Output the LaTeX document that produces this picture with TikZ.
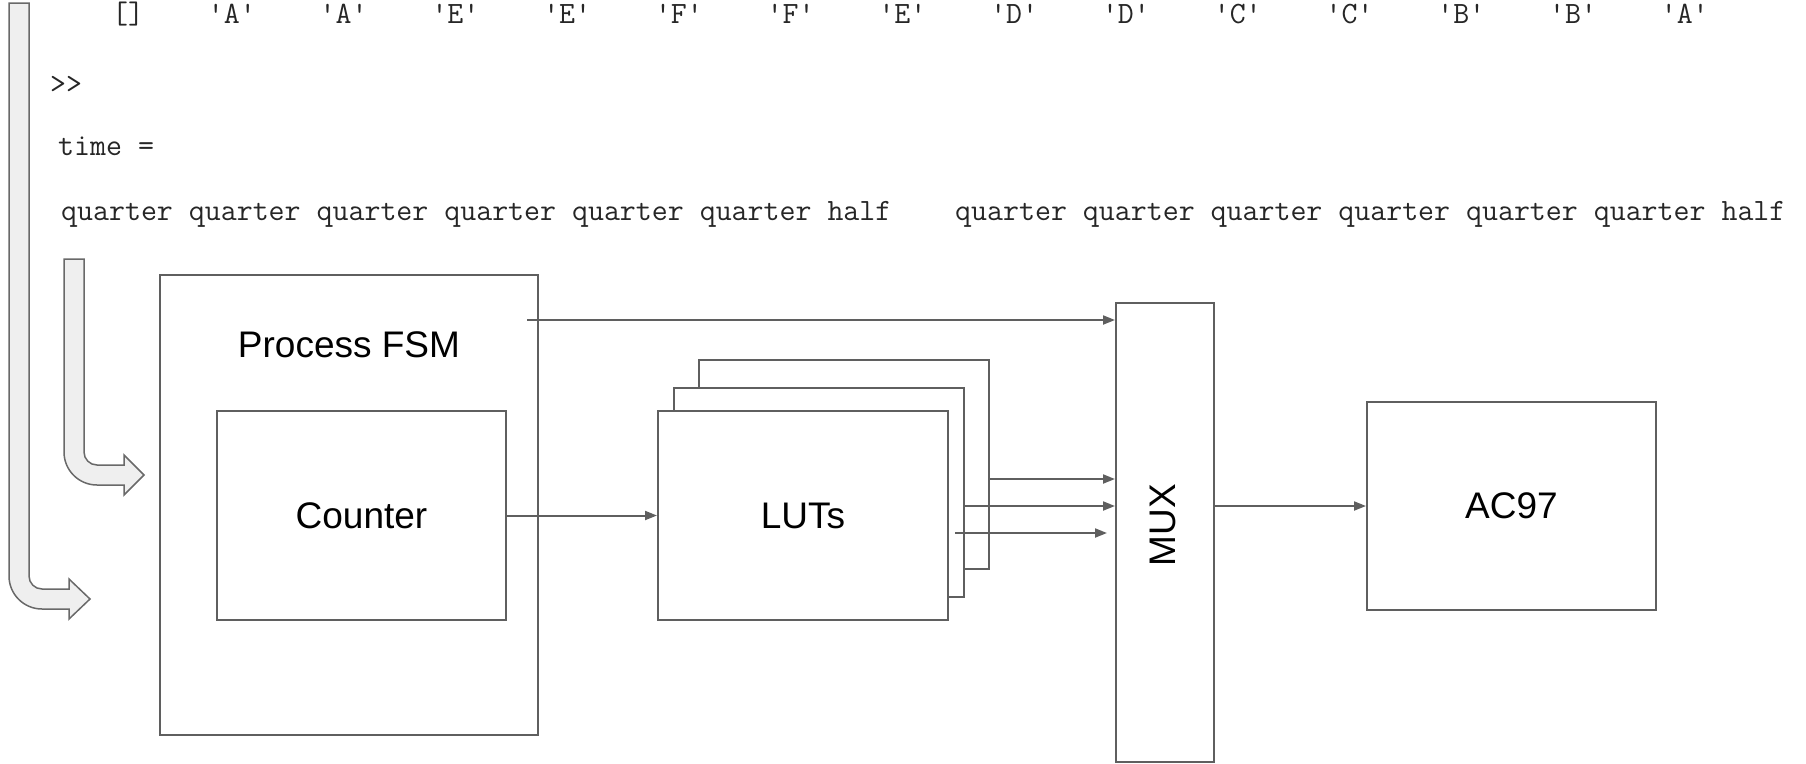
\documentclass[tikz,border=0pt]{standalone}
\usepackage{fontspec}
\setsansfont{Liberation Sans}
\usetikzlibrary{arrows.meta,calc,positioning}
\definecolor{lngray}{RGB}{95,95,95}
\definecolor{bendfill}{RGB}{239,239,239}
\definecolor{bendline}{RGB}{105,105,105}

\begin{document}
\begin{tikzpicture}[x=1pt,y=-1pt,
    lbl/.style={inner sep=0pt,font=\sffamily\fontsize{37}{44}\selectfont},
    blk/.style={lbl,draw=lngray,line width=2pt,fill=white},
    lut/.style={blk,minimum width=290pt,minimum height=209pt},
    conn/.style={draw=lngray,line width=2pt,-{Triangle[length=12pt,width=9pt]}},
    bendarr/.style={fill=bendfill,draw=bendline,line width=1.5pt},
    mono/.style={anchor=base west,inner sep=0pt,text=black!85,
      font=\ttfamily\fontsize{31}{37}\selectfont}]
  \useasboundingbox (0,0) rectangle (1806,763);
  % console text
  \node[mono] (chars) at (112,23) {[]~~~~'A'~~~~'A'~~~~'E'~~~~'E'~~~~'F'~~~~'F'~~~~'E'~~~~'D'~~~~'D'~~~~'C'~~~~'C'~~~~'B'~~~~'B'~~~~'A'};
  \node[mono] (prompt) at (50,93) {>\kern0pt>};
  \node[mono] (timevar) at (58,155) {time =};
  \node[mono] (times) at (61,220) {quarter quarter quarter quarter quarter quarter half~~~~quarter quarter quarter quarter quarter quarter half};
  % bent arrows
  \draw[bendarr] (9,3) -- (29,3) -- (29,576) arc[start angle=180,end angle=90,radius=13]
    -- (69,589) -- (69,579) -- (90,599) -- (69,619) -- (69,609) -- (42,609)
    arc[start angle=90,end angle=180,radius=33] -- cycle;
  \draw[bendarr] (64,259) -- (84,259) -- (84,452) arc[start angle=180,end angle=90,radius=13]
    -- (124,465) -- (124,455) -- (144,475) -- (124,495) -- (124,485) -- (97,485)
    arc[start angle=90,end angle=180,radius=33] -- cycle;
  % blocks
  \node[blk,minimum width=378pt,minimum height=460pt] (fsm) at (349,505) {};
  \node[lbl,anchor=base] (fsmname) at (fsm.north |- 0,357) {Process FSM};
  \node[blk,minimum width=289pt,minimum height=209pt] (cnt) at (361.5,515.5) {Counter};
  \node[lut] (lutC) at (844,464.5) {};
  \node[lut] (lutB) at (819,492) {};
  \node[lut] (lutA) at (803,515.5) {LUTs};
  \node[blk,minimum width=98pt,minimum height=459pt] (mux) at (1165,532.5) {};
  \node[lbl,rotate=90] (muxname) at (1163,525) {MUX};
  \node[blk,minimum width=289pt,minimum height=208pt] (ac) at (1511.5,506) {AC97};
  % connectors
  \coordinate (fsmtap) at (527,320);
  \coordinate (lutout) at (955,533);
  \coordinate (muxin) at (1107,533);
  \draw[conn] (fsmtap) -- (fsmtap -| mux.west);
  \draw[conn] (cnt) -- (lutA);
  \draw[conn] (lutC.east |- 0,479) -- (mux.west |- 0,479);
  \draw[conn] (lutB.east |- 0,506) -- (mux.west |- 0,506);
  \draw[conn] (lutout) -- (muxin);
  \draw[conn] (mux.east |- ac) -- (ac);
\end{tikzpicture}
\end{document}
